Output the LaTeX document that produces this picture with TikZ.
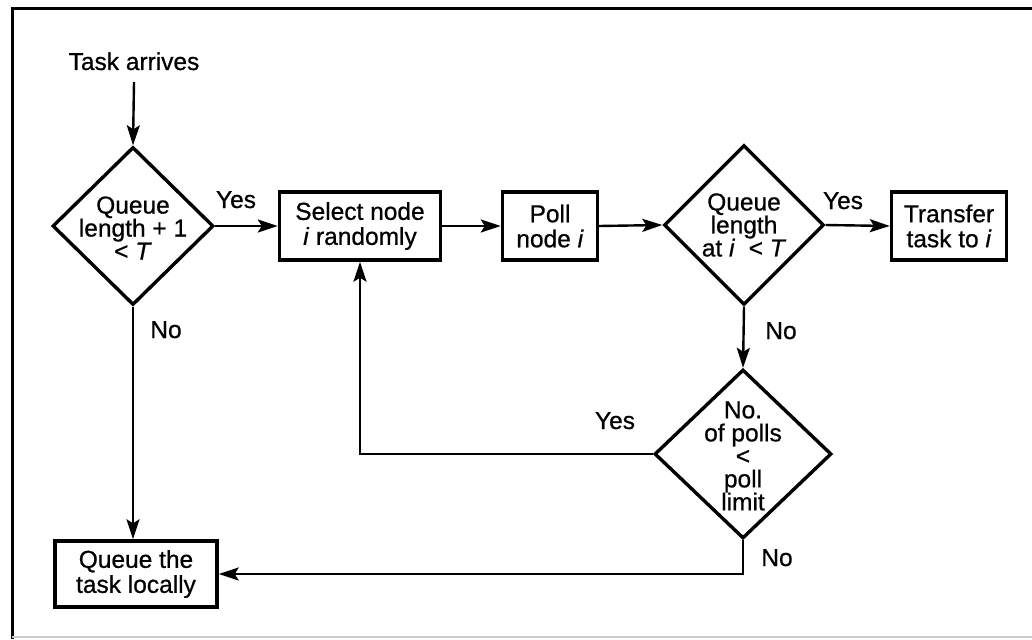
\documentclass[tikz,border=0pt]{standalone}
\usepackage{fontspec}
\setmainfont{Liberation Sans}[FakeBold=0.7]
\usetikzlibrary{shapes.geometric,arrows.meta}
\begin{document}
\begin{tikzpicture}[x=1pt,y=-1pt,
  every node/.style={font=\fontsize{24.5}{25}\selectfont},
  box/.style={draw,line width=3.4pt,align=center,inner sep=0pt},
  decision/.style={draw,diamond,line width=3.4pt,inner sep=0pt},
  dtext/.style={align=center,inner sep=0pt,font=\fontsize{24.5}{23}\selectfont},
  lbl/.style={anchor=base,inner sep=0pt},
  conn/.style={line width=2.4pt},
  arr/.style={conn,-{Stealth[length=20pt,width=13pt,inset=4pt]}}]
\useasboundingbox (0,0) rectangle (1032,639);
% frame
\draw[line width=3pt] (12,639) -- (12,9) -- (1032,9);
\draw[line width=1.4pt,black!20] (12,637) -- (1032,637);
% nodes
\node[lbl] (start) at (134,70) {Task arrives};
\node[decision,minimum width=161pt,minimum height=158pt] (d1) at (133,226) {};
\node[dtext] (d1t) at (133,228) {Queue\\length + 1\\< \textit{T}};
\node[box,minimum width=161pt,minimum height=68pt] (sel) at (360,226)
  {Select node\\\textit{i} randomly};
\node[box,minimum width=95pt,minimum height=68pt] (poll) at (550,226)
  {Poll\\node \textit{i}};
\node[decision,minimum width=160pt,minimum height=160pt] (d2) at (744,225) {};
\node[dtext] (d2t) at (744,225) {Queue\\length\\at \textit{i} \ < \textit{T}};
\node[box,minimum width=115pt,minimum height=68pt] (tr) at (949,226)
  {Transfer\\task to \textit{i}};
\node[decision,minimum width=177pt,minimum height=169pt] (d3) at (743,454) {};
\node[dtext] (d3t) at (743,456) {No.\\of polls\\<\\poll\\limit};
\node[box,minimum width=162pt,minimum height=66pt] (q) at (136,574)
  {Queue the\\task locally};
% labels
\node[lbl] (y1) at (236,208) {Yes};
\node[lbl] (n1) at (166,338) {No};
\node[lbl] (y2) at (843,209) {Yes};
\node[lbl] (n2) at (781,339) {No};
\node[lbl] (y3) at (615,429) {Yes};
\node[lbl] (n3) at (777,566) {No};
% connectors
\draw[arr] (start.south |- 0,82) -- (d1.north);
\draw[arr] (d1.east) -- (sel.west);
\draw[arr] (sel.east) -- (poll.west);
\draw[arr] (poll.east) -- (d2.west);
\draw[arr] (d2.east) -- (tr.west);
\draw[arr] (d2.south) -- (d3.north);
\draw[arr] (d3.west) -| (sel.south);
\draw[arr] (d3.south) |- (q.east);
\draw[arr] (d1.south) -- (d1.south |- q.north);
\end{tikzpicture}
\end{document}
